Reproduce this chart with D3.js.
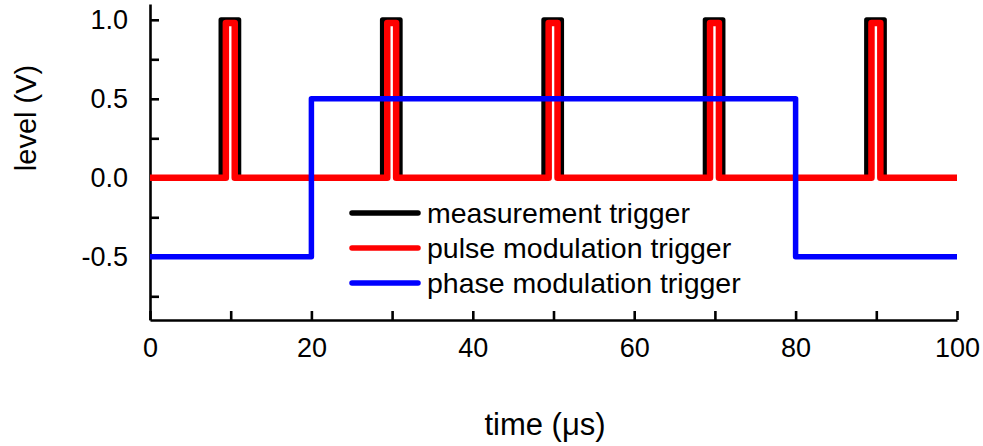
<!DOCTYPE html>
<html>
<head>
<meta charset="utf-8">
<script src="https://cdn.jsdelivr.net/npm/d3@7"></script>
<style>
  body { margin: 0; background: #fff; }
  text { font-family: "Liberation Sans", Arial, sans-serif; fill: #000; }
</style>
</head>
<body>
<div id="chart-area"></div>
<script>
// time (us) and level (V) of each trace, as step corners
let measTime = [0, 8.8, 8.8, 11, 11, 28.8, 28.8, 31, 31, 48.8, 48.8, 51, 51,
    68.8, 68.8, 71, 71, 88.8, 88.8, 91, 91, 100];
let measLevel = [0, 0, 1, 1, 0, 0, 1, 1, 0, 0, 1, 1, 0,
    0, 1, 1, 0, 0, 1, 1, 0, 0];

let pulseTime = [0, 9.4, 9.4, 10.5, 10.5, 29.4, 29.4, 30.5, 30.5, 49.4, 49.4, 50.5, 50.5,
    69.4, 69.4, 70.5, 70.5, 89.4, 89.4, 90.5, 90.5, 100];
let pulseLevel = [0, 0, 0.98, 0.98, 0, 0, 0.98, 0.98, 0, 0, 0.98, 0.98, 0,
    0, 0.98, 0.98, 0, 0, 0.98, 0.98, 0, 0];

let phaseTime = [0, 20, 20, 80, 80, 100];
let phaseLevel = [-0.5, -0.5, 0.5, 0.5, -0.5, -0.5];

let seriesNames = ["measurement trigger", "pulse modulation trigger", "phase modulation trigger"];
let seriesColors = ["#000000", "#ff0000", "#0000ff"];

let xMajor = [0, 20, 40, 60, 80, 100];
let xMinor = [10, 30, 50, 70, 90];
let yMajor = [-0.5, 0, 0.5, 1.0];
let yMinor = [-0.75, -0.25, 0.25, 0.75];

let margin = {left: 150, right: 26, top: 4, bottom: 126};
let width = 983 - margin.left - margin.right,
    height = 446 - margin.top - margin.bottom;

let svg = d3.select("#chart-area")
    .append("svg")
    .attr("width", 983)
    .attr("height", 446)
    .append("g")
    .attr("transform", "translate(" + margin.left + ", " + margin.top + ")");

let x = d3.scaleLinear().domain([0, 100]).range([0, width]);
let y = d3.scaleLinear().domain([-0.9, 1.1]).range([height, 0]);

// Axes (ticks point inward)
let xAxisCall = d3.axisBottom(x)
    .tickValues(xMajor)
    .tickSizeInner(-9)
    .tickSizeOuter(0)
    .tickPadding(18)
    .tickFormat(d3.format("d"));
let xMinorCall = d3.axisBottom(x).tickValues(xMinor).tickSize(-9).tickFormat("");
let yAxisCall = d3.axisLeft(y)
    .tickValues(yMajor)
    .tickSizeInner(-9)
    .tickSizeOuter(0)
    .tickPadding(22)
    .tickFormat(function (d) { return d3.format(".1f")(d).replace("\u2212", "-"); });
let yMinorCall = d3.axisLeft(y).tickValues(yMinor).tickSize(-9).tickFormat("");

function styleAxis(g) {
    g.selectAll("path, line").attr("stroke", "#000").attr("stroke-width", 2.6);
    g.selectAll("text").attr("font-size", "27px")
        .attr("font-family", "'Liberation Sans', Arial, sans-serif");
}

svg.append("g").attr("transform", "translate(0," + height + ")").call(xAxisCall).call(styleAxis);
svg.append("g").attr("transform", "translate(0," + height + ")").call(xMinorCall).call(styleAxis)
    .select(".domain").remove();
svg.append("g").call(yAxisCall).call(styleAxis);
svg.append("g").call(yMinorCall).call(styleAxis).select(".domain").remove();

// Traces
let traces = [
    {t: measTime, v: measLevel, w: 5},
    {t: pulseTime, v: pulseLevel, w: 6.5},
    {t: phaseTime, v: phaseLevel, w: 5.5}
];

let line = d3.line()
    .x(function (d) { return x(d[0]); })
    .y(function (d) { return y(d[1]); });

traces.forEach(function (tr, i) {
    svg.append("path")
        .datum(d3.zip(tr.t, tr.v))
        .attr("fill", "none")
        .attr("stroke", seriesColors[i])
        .attr("stroke-width", tr.w)
        .attr("stroke-linejoin", "round")
        .attr("d", line);
});

// Legend
let legend = svg.append("g").attr("transform", "translate(202, 209)");
seriesNames.forEach(function (name, i) {
    let row = legend.append("g").attr("transform", "translate(0," + (i * 35) + ")");
    row.append("line")
        .attr("x1", 0).attr("x2", 66)
        .attr("stroke", seriesColors[i])
        .attr("stroke-width", 5.5)
        .attr("stroke-linecap", "round");
    row.append("text")
        .attr("x", 75)
        .attr("dy", "0.35em")
        .attr("font-size", "28.5px")
        .text(name);
});

// X Label
svg.append("text")
    .attr("x", 395)
    .attr("y", 431)
    .attr("font-size", "31px")
    .attr("text-anchor", "middle")
    .text("time (\u03bcs)");

// Y Label
svg.append("text")
    .attr("transform", "translate(-114, 114) rotate(-90)")
    .attr("font-size", "29px")
    .attr("text-anchor", "middle")
    .text("level (V)");
</script>
</body>
</html>
